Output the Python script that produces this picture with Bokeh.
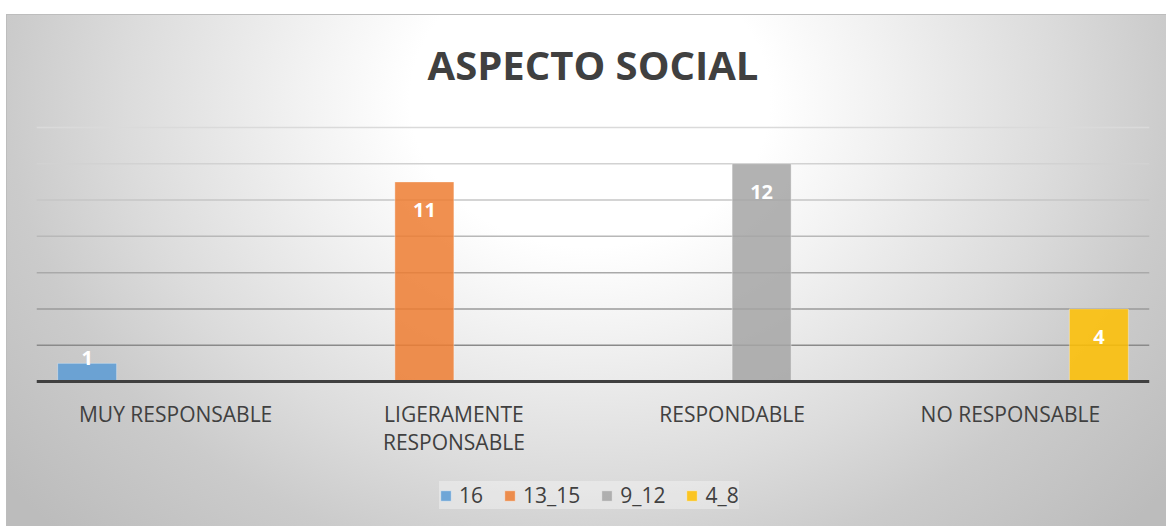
import numpy as np
from bokeh.plotting import figure
from bokeh.models import (ColumnDataSource, FactorRange, Range1d, Span, Legend,
                          LegendItem)
from bokeh.transform import dodge
from bokeh.core.properties import value
from bokeh.embed import file_html
from bokeh.resources import INLINE

# ---- data ----
title_text = "ASPECTO SOCIAL"
categories = ["MUY RESPONSABLE", "LIGERAMENTE RESPONSABLE", "RESPONDABLE", "NO RESPONSABLE"]
category_labels = ["MUY RESPONSABLE", "LIGERAMENTE\nRESPONSABLE", "RESPONDABLE", "NO RESPONSABLE"]
series_names = ["16", "13_15", "9_12", "4_8"]
s_16 = [1, None, None, None]
s_13_15 = [None, 11, None, None]
s_9_12 = [None, None, 12, None]
s_4_8 = [None, None, None, 4]
grid_values = [2, 4, 6, 8, 10, 12, 14]

series_values = [s_16, s_13_15, s_9_12, s_4_8]
colors = ["#5B9BD5", "#ED7D31", "#A5A5A5", "#FFC000"]
grid_colors = ["#8a8a8a", "#9a9a9a", "#a9a9a9", "#b8b8b8", "#c6c6c6", "#d2d2d2", "#dadada"]

FONT = "Open Sans"
TXT = "#404040"

# frame spans the whole figure height; 14 units = 254 px
p = figure(x_range=FactorRange(factors=categories, range_padding=0),
           y_range=Range1d(-7.992, 20.228),
           width=1160, height=512, output_backend="svg", toolbar_location=None,
           x_axis_location=None, y_axis_location=None, tools="")
p.min_border_left = 30
p.min_border_right = 17
p.min_border_top = 0
p.min_border_bottom = 0
p.background_fill_alpha = 0
p.border_fill_alpha = 0
p.outline_line_color = None
p.xgrid.grid_line_color = None
p.ygrid.grid_line_color = None
p.styles = {
    "margin-top": "14px",
    "margin-left": "6px",
    "background": "radial-gradient(600px 490px at 584px 86px, #ffffff 30%, #f2f2f2 48%, "
                  "#dcdcdc 77%, #cbcbcb 97%, #bcbcbc 125%)",
    "box-shadow": "inset 1px 1px 0 0 #bdbdbd",
}

# gridlines
for gv, gc in zip(grid_values, grid_colors):
    p.add_layout(Span(location=gv, dimension="width", line_color=gc,
                      line_width=1.5, level="underlay"))

# bars
bar_w = 0.212
n = len(series_names)
items = []
for i, (name, vals, col) in enumerate(zip(series_names, series_values, colors)):
    off = (i - (n - 1) / 2) * bar_w
    top = [np.nan if v is None else v for v in vals]
    src = ColumnDataSource(dict(cat=categories, top=top))
    r = p.vbar(x=dodge("cat", off, range=p.x_range), top="top", width=bar_w,
               source=src, fill_color=col, fill_alpha=0.85,
               line_color="white", line_alpha=0.35, line_width=1)
    items.append(LegendItem(label=name, renderers=[r]))
    # data labels
    cats_l = [c for c, v in zip(categories, vals) if v is not None]
    vals_l = [v for v in vals if v is not None]
    ly = [max(v - 1.57, 1.32) for v in vals_l]
    lsrc = ColumnDataSource(dict(cat=cats_l, y=ly, t=[str(v) for v in vals_l]))
    p.text(x=dodge("cat", off, range=p.x_range), y="y", text="t", source=lsrc,
           text_font=value(FONT), text_font_style="bold", text_font_size="20px",
           text_color="white", text_align="center", text_baseline="middle")

# category axis: baseline and labels
p.add_layout(Span(location=0, dimension="width", line_color="#404040", line_width=3))
csrc = ColumnDataSource(dict(cat=categories, lab=category_labels,
                             y=[-1.0] * len(categories)))
p.text(x="cat", y="y", text="lab", source=csrc, text_font=value(FONT),
       text_font_size="21px", text_color=TXT, text_align="center",
       text_baseline="top", text_line_height=1.02)

# title (centered over the plot area)
tsrc = ColumnDataSource(dict(x=[len(categories) / 2], y=[17.47], t=[title_text]))
p.text(x="x", y="y", text="t", source=tsrc, text_font=value(FONT),
       text_font_style="bold", text_font_size="40px", text_color=TXT,
       text_align="center", text_baseline="alphabetic")

# legend
legend = Legend(items=items, orientation="horizontal", location=(403, 17),
                glyph_width=13, glyph_height=13, label_standoff=7, spacing=20,
                padding=8, margin=0, label_text_font=FONT,
                label_text_font_size="21px", label_text_color=TXT,
                background_fill_color="#ffffff", background_fill_alpha=0.35,
                border_line_color=None)
p.add_layout(legend, "center")

open("out.html", "w").write(file_html(p, INLINE))
